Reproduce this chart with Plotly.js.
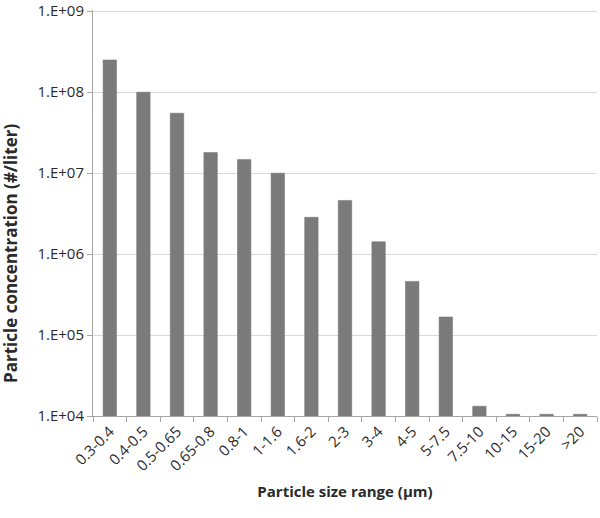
<!DOCTYPE html>
<html>
<head>
<meta charset="utf-8">
<script src="https://cdn.plot.ly/plotly-3.0.1.min.js"></script>
<style>html,body{margin:0;padding:0;background:#fff;}#chart{width:600px;height:518px;}</style>
</head>
<body>
<div id="chart"></div>
<script>
var sizeRanges = ["0.3-0.4","0.4-0.5","0.5-0.65","0.65-0.8","0.8-1","1-1.6","1.6-2","2-3","3-4","4-5","5-7.5","7.5-10","10-15","15-20",">20"];
var concentrations = [2.5e8, 1.0e8, 5.5e7, 1.8e7, 1.47e7, 1.0e7, 2.85e6, 4.6e6, 1.42e6, 4.6e5, 1.67e5, 1.32e4, 1.05e4, 1.05e4, 1.05e4];
var yTickVals = [1e4, 1e5, 1e6, 1e7, 1e8, 1e9];
var yTickText = ["1.E+04","1.E+05","1.E+06","1.E+07","1.E+08","1.E+09"];
var xTitle = "Particle size range (µm)";
var yTitle = "Particle concentration (#/liter)";

var trace = {
  type: "bar",
  x: sizeRanges,
  y: concentrations,
  marker: {color: "#7b7b7b", line: {color: "#6e6e6e", width: 0.5}},
  hoverinfo: "x+y"
};

var font = "Open Sans, Liberation Sans, Arial, sans-serif";
var txt = "#2a2a2a";
var layout = {
  width: 600, height: 518,
  margin: {l: 93, r: 3, t: 10, b: 102},
  paper_bgcolor: "#ffffff",
  plot_bgcolor: "#ffffff",
  bargap: 0.6,
  showlegend: false,
  font: {family: font, color: txt},
  xaxis: {
    type: "category",
    tickson: "boundaries",
    ticks: "outside",
    ticklen: 5,
    tickcolor: "#a6a6a6",
    tickangle: -45,
    tickfont: {size: 15, color: txt, family: font},
    showline: true,
    linecolor: "#a6a6a6",
    linewidth: 1,
    showgrid: false,
    zeroline: false,
    title: {text: "<b>" + xTitle + "</b>", font: {size: 15, color: txt, family: font}, standoff: 12}
  },
  yaxis: {
    type: "log",
    range: [4, 9.015],
    tickvals: yTickVals,
    ticktext: yTickText,
    ticks: "outside",
    ticklen: 5,
    tickcolor: "#a6a6a6",
    tickfont: {size: 15, color: txt, family: font},
    ticklabeloverflow: "allow",
    showline: true,
    linecolor: "#a6a6a6",
    linewidth: 1,
    showgrid: true,
    gridcolor: "#d9d9d9",
    gridwidth: 1,
    zeroline: false
  },
  annotations: [{
    text: "<b>" + yTitle + "</b>",
    xref: "paper", yref: "paper",
    x: -0.164, y: 0.40,
    xanchor: "center", yanchor: "middle",
    textangle: -90,
    showarrow: false,
    font: {size: 17, color: txt, family: font}
  }]
};

Plotly.newPlot("chart", [trace], layout, {displayModeBar: false, staticPlot: true});
</script>
</body>
</html>
